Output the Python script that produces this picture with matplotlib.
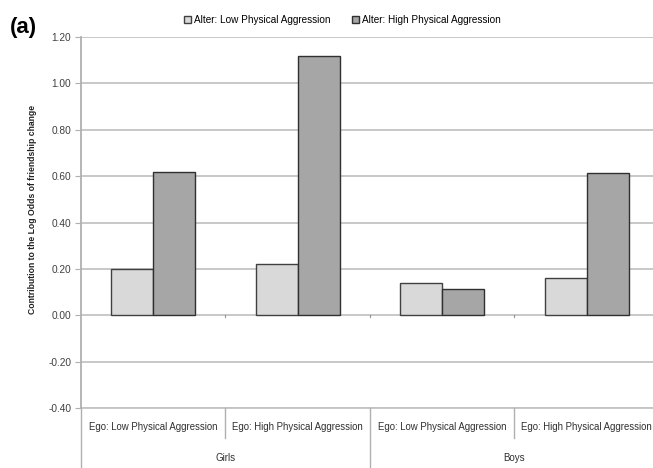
import numpy as np
import matplotlib
matplotlib.use('Agg')
import matplotlib.pyplot as plt

plt.rcParams['font.family'] = ['Liberation Sans', 'DejaVu Sans']

# data
ego_labels = ['Ego: Low Physical Aggression', 'Ego: High Physical Aggression',
              'Ego: Low Physical Aggression', 'Ego: High Physical Aggression']
sex_labels = ['Girls', 'Boys']
series_names = ['Alter: Low Physical Aggression', 'Alter: High Physical Aggression']
alter_low = [0.20, 0.22, 0.14, 0.16]
alter_high = [0.62, 1.12, 0.115, 0.615]
yticks = [-0.40, -0.20, 0.00, 0.20, 0.40, 0.60, 0.80, 1.00, 1.20]

fig = plt.figure(figsize=(6.53, 4.68), dpi=100)
ax = fig.add_axes([0.124, 0.128, 0.885, 0.793])

x = np.arange(len(ego_labels))
w = 0.29
ax.bar(x - w / 2, alter_low, w, color='#d9d9d9', edgecolor='#404040', linewidth=1.0,
       label=series_names[0], zorder=3)
ax.bar(x + w / 2, alter_high, w, color='#a6a6a6', edgecolor='#303030', linewidth=1.0,
       label=series_names[1], zorder=3)

ax.set_xlim(-0.5, 3.5)
ax.set_ylim(-0.40, 1.20)
ax.set_yticks(yticks)
ax.set_yticklabels([f'{v:.2f}' for v in yticks], fontsize=7.3, color='#404040')
ax.yaxis.grid(True, color='#c4c4c4', linewidth=1.3, zorder=0)
ax.tick_params(axis='y', length=4, color='#b0b0b0', pad=3)
ax.set_xticks([])
for s in ['top', 'right', 'bottom']:
    ax.spines[s].set_visible(False)
ax.spines['left'].set_color('#b0b0b0')
ax.spines['left'].set_linewidth(1.3)

# small ticks on the zero line between categories
for b in [0.5, 1.5, 2.5]:
    ax.plot([b, b], [0, -0.008], color='#909090', lw=0.8, zorder=2)

ax.set_ylabel('Contribution to the Log Odds of friendship change', fontsize=6.2,
              fontweight='bold', color='#202020')
ax.yaxis.set_label_coords(-0.076, 0.536)

# category axis below
tr = ax.get_xaxis_transform()
ax.plot([-0.5, 3.5], [0, 0], transform=tr, color='#c4c4c4', lw=1.3, clip_on=False)
for b in [0.5, 2.5]:
    ax.plot([b, b], [0, -0.081], transform=tr, color='#b0b0b0', lw=1.0, clip_on=False)
for b in [-0.5, 1.5, 3.5]:
    ax.plot([b, b], [0, -0.17], transform=tr, color='#b0b0b0', lw=1.0, clip_on=False)
for i, lab in enumerate(ego_labels):
    ax.text(i, -0.051, lab, transform=tr, ha='center', va='center', fontsize=6.9, color='#303030')
for j, lab in enumerate(sex_labels):
    ax.text(0.5 + 2 * j, -0.135, lab, transform=tr, ha='center', va='center', fontsize=7.0,
            color='#303030')

fig.legend(loc='center', bbox_to_anchor=(0.524, 0.958), ncol=2, frameon=False, fontsize=7.2,
           handlelength=0.7, handleheight=0.7, handletextpad=0.3, columnspacing=2.2)
fig.text(0.015, 0.942, '(a)', fontsize=16, fontweight='bold', va='center')

fig.savefig('out.png', dpi=100)
